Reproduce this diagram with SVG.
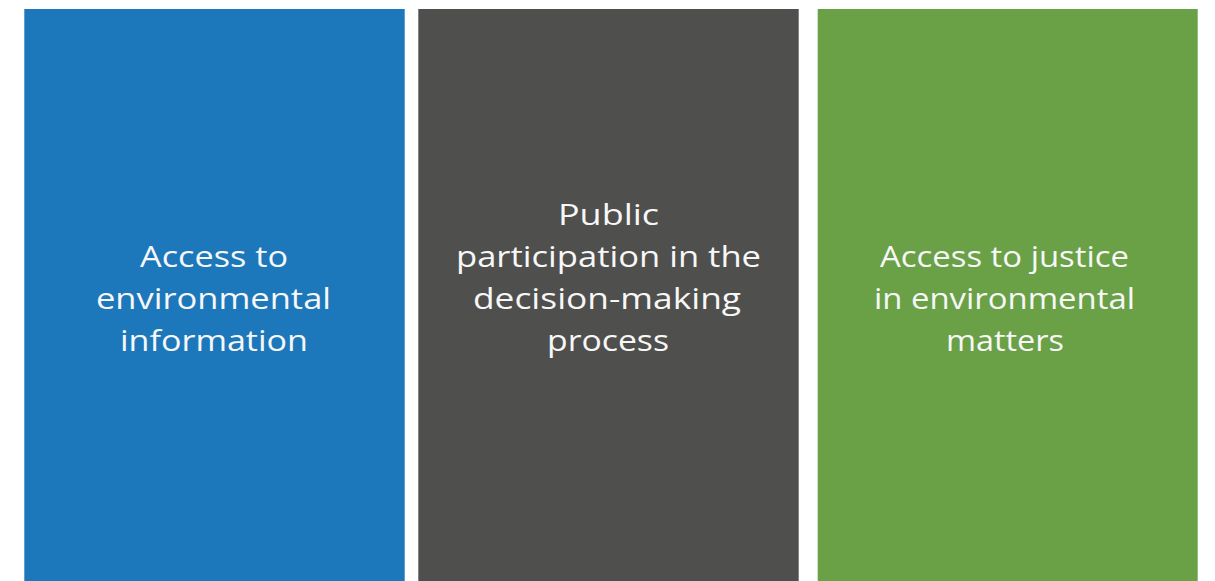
<svg xmlns="http://www.w3.org/2000/svg" width="1215" height="581" viewBox="0 0 1215 581">
  <style>
    .panel-text { font-family: "Open Sans", "Liberation Sans", sans-serif; font-size: 30px; font-weight: 400; fill: #f7f7f7; }
  </style>
  <rect width="1215" height="581" fill="#ffffff"/>
  <g id="access-information">
    <rect x="24.3" y="9" width="380.4" height="572" fill="#1c78bb"/>
    <text class="panel-text">
      <tspan x="140" y="267" textLength="148" lengthAdjust="spacingAndGlyphs">Access to</tspan>
      <tspan x="96" y="309" textLength="235" lengthAdjust="spacingAndGlyphs">environmental</tspan>
      <tspan x="120" y="351" textLength="188" lengthAdjust="spacingAndGlyphs">information</tspan>
    </text>
  </g>
  <g id="public-participation">
    <rect x="418.3" y="9" width="380.4" height="572" fill="#4f4f4d"/>
    <text class="panel-text">
      <tspan x="558" y="225" textLength="101" lengthAdjust="spacingAndGlyphs">Public</tspan>
      <tspan x="456" y="267" textLength="305" lengthAdjust="spacingAndGlyphs">participation in the</tspan>
      <tspan x="473" y="309" textLength="268" lengthAdjust="spacingAndGlyphs">decision-making</tspan>
      <tspan x="547" y="351" textLength="122" lengthAdjust="spacingAndGlyphs">process</tspan>
    </text>
  </g>
  <g id="access-justice">
    <rect x="817.7" y="9" width="380" height="572" fill="#6aa147"/>
    <text class="panel-text">
      <tspan x="880" y="267" textLength="249" lengthAdjust="spacingAndGlyphs">Access to justice</tspan>
      <tspan x="874" y="309" textLength="261" lengthAdjust="spacingAndGlyphs">in environmental</tspan>
      <tspan x="946" y="351" textLength="118" lengthAdjust="spacingAndGlyphs">matters</tspan>
    </text>
  </g>
  <g id="connectors"/>
</svg>
